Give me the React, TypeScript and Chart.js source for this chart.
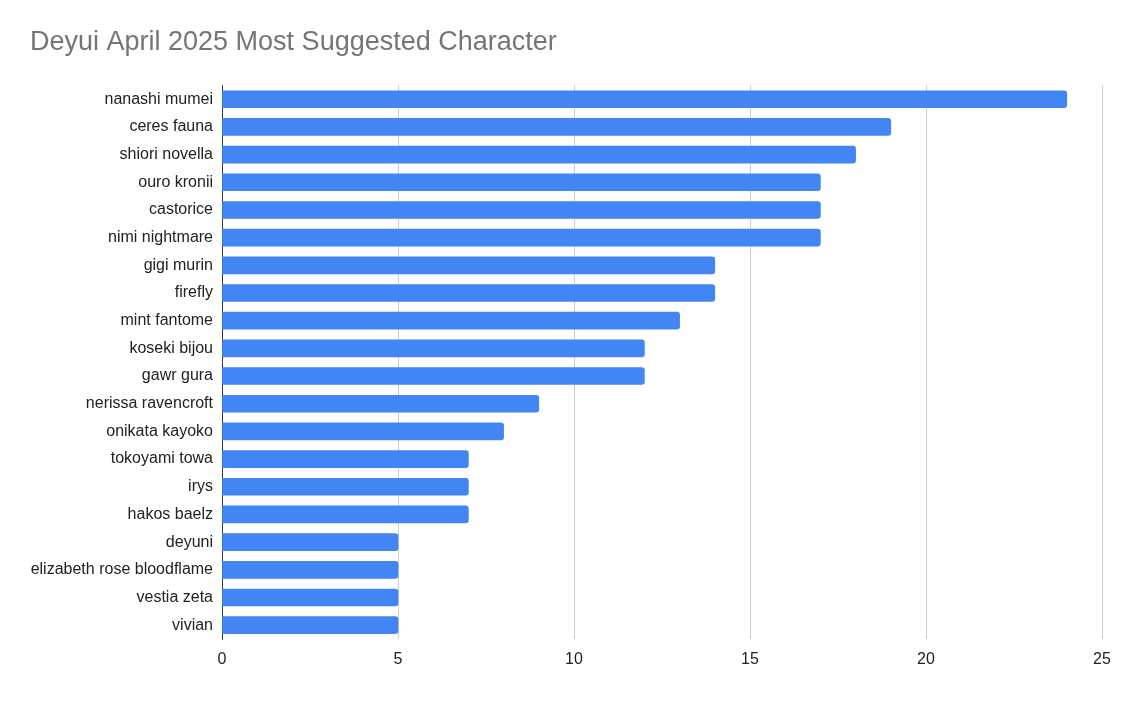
import React, { useEffect, useRef } from 'react';
import { Chart, registerables } from 'chart.js';

Chart.register(...registerables);

const characters = [
   'nanashi mumei',
   'ceres fauna',
   'shiori novella',
   'ouro kronii',
   'castorice',
   'nimi nightmare',
   'gigi murin',
   'firefly',
   'mint fantome',
   'koseki bijou',
   'gawr gura',
   'nerissa ravencroft',
   'onikata kayoko',
   'tokoyami towa',
   'irys',
   'hakos baelz',
   'deyuni',
   'elizabeth rose bloodflame',
   'vestia zeta',
   'vivian',
];

const suggestions = [24, 19, 18, 17, 17, 17, 14, 14, 13, 12, 12, 9, 8, 7, 7, 7, 5, 5, 5, 5];

const xTicks = [0, 5, 10, 15, 20, 25];

const FONT = "'Liberation Sans', Arial, sans-serif";

const App = () => {
   const canvasRef = useRef<HTMLCanvasElement | null>(null);

   useEffect(() => {
      document.body.style.margin = '0';
      if (!canvasRef.current) {
         return;
      }

      const chart = new Chart(canvasRef.current, {
         type: 'bar',
         data: {
            labels: characters,
            datasets: [
               {
                  label: 'Suggestions',
                  data: suggestions,
                  backgroundColor: '#4285f4',
                  borderRadius: 3,
                  barThickness: 17,
               },
            ],
         },
         options: {
            indexAxis: 'y',
            animation: false,
            responsive: false,
            maintainAspectRatio: false,
            layout: {
               padding: { left: 30, right: 32, top: 0, bottom: 28 },
            },
            plugins: {
               legend: { display: false },
               tooltip: { enabled: false },
               title: {
                  display: true,
                  text: 'Deyui April 2025 Most Suggested Character',
                  align: 'start',
                  color: '#757575',
                  font: { family: FONT, size: 27, weight: 'normal' },
                  padding: { top: 26, bottom: 27 },
               },
            },
            scales: {
               x: {
                  min: 0,
                  max: 25,
                  afterBuildTicks: (scale) => {
                     scale.ticks = xTicks.map((v) => ({ value: v }));
                  },
                  afterFit: (scale) => {
                     scale.height = 36;
                  },
                  grid: {
                     color: (ctx) => (ctx.index === 0 ? 'rgba(0,0,0,0)' : '#cccccc'),
                     drawTicks: false,
                  },
                  border: { display: false },
                  ticks: {
                     color: '#222222',
                     padding: 11,
                     font: { family: FONT, size: 16 },
                  },
               },
               y: {
                  afterFit: (scale) => {
                     scale.width = 192;
                  },
                  grid: { display: false, drawTicks: false },
                  border: { display: true, color: '#333333', width: 1 },
                  ticks: {
                     color: '#222222',
                     padding: 9,
                     autoSkip: false,
                     font: { family: FONT, size: 16 },
                  },
               },
            },
         },
      });

      return () => {
         chart.destroy();
      };
   }, []);

   return (
      <div style={{ width: 1134, height: 703, background: '#ffffff' }}>
         <canvas ref={canvasRef} width={1134} height={703} style={{ display: 'block' }} />
      </div>
   );
};

export default App;
